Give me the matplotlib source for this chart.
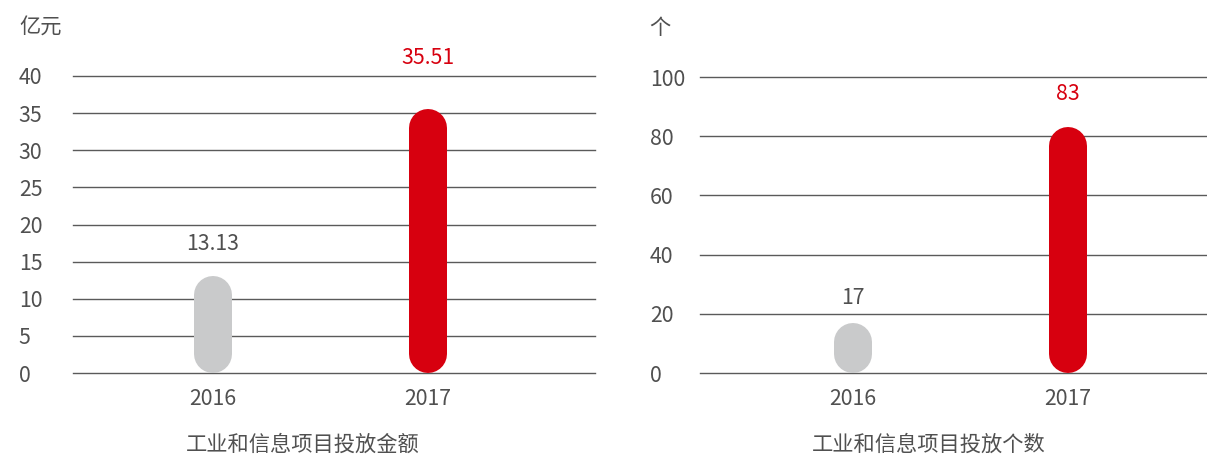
import matplotlib
matplotlib.use("Agg")
import matplotlib.pyplot as plt

plt.rcParams['font.family'] = ['Noto Sans CJK SC', 'DejaVu Sans']

# ---- data ----
years = ["2016", "2017"]
amount_values = [13.13, 35.51]
amount_labels = ["13.13", "35.51"]
count_values = [17, 83]
count_labels = ["17", "83"]
amount_ticks = [0, 5, 10, 15, 20, 25, 30, 35, 40]
count_ticks = [0, 20, 40, 60, 80, 100]
amount_unit = "亿元"
count_unit = "个"
amount_title = "工业和信息项目投放金额"
count_title = "工业和信息项目投放个数"

# ---- style ----
GREY_TXT = "#505050"
GRID = "#5a5a5a"
BAR_COLORS = ["#c9cacb", "#d7000f"]
LABEL_COLORS = [GREY_TXT, "#d7000f"]
FS = 15.3
DPI = 100
W, H = 12.07, 4.57
BAR_PX = 38

fig = plt.figure(figsize=(W, H), dpi=DPI)

def panel(rect, values, labels, ticks, xlim, unit, unit_x, title, title_x, label_off_px, tick_pad):
    ax = fig.add_axes(rect)
    ax.set_xlim(*xlim)
    ax.set_ylim(ticks[0], ticks[-1])
    for s in ax.spines.values():
        s.set_visible(False)
    ax.set_yticks(ticks)
    ax.set_yticklabels([str(t) for t in ticks], ha='left')
    ax.tick_params(axis='y', length=0, pad=tick_pad, labelsize=FS, labelcolor=GREY_TXT)
    ax.set_xticks(range(len(years)))
    ax.set_xticklabels(years)
    ax.tick_params(axis='x', length=0, pad=11, labelsize=FS, labelcolor=GREY_TXT)
    for t in ticks:
        ax.axhline(t, color=GRID, lw=1.0, zorder=1, clip_on=False)
    # data units per pixel
    ax_h_px = rect[3] * H * DPI
    unit_per_px = (ticks[-1] - ticks[0]) / ax_h_px
    r = BAR_PX / 2 * unit_per_px
    lw_pt = BAR_PX * 72 / DPI
    for i, v in enumerate(values):
        y0 = r
        y1 = max(v - r, r + 0.001)
        ax.plot([i, i], [y0, y1], color=BAR_COLORS[i], lw=lw_pt,
                solid_capstyle='round', zorder=3)
        ax.annotate(labels[i], (i, v), xytext=(0, label_off_px[i] * 72 / DPI),
                    textcoords='offset points', ha='center', va='center',
                    fontsize=FS, color=LABEL_COLORS[i])
    fig.text(unit_x, 1 - 28 / (H * DPI), unit, ha='left', va='center',
             fontsize=FS, color=GREY_TXT)
    fig.text(title_x, 1 - 445 / (H * DPI), title, ha='center', va='center',
             fontsize=FS, color=GREY_TXT)
    return ax

FW = W * DPI
FH = H * DPI
rect_l = [73 / FW, 84 / FH, 522 / FW, 297 / FH]
rect_r = [700 / FW, 84 / FH, 507 / FW, 296 / FH]

panel(rect_l, amount_values, amount_labels, amount_ticks, (-0.651, 1.777),
      amount_unit, 19 / FW, amount_title, 303 / FW, [32, 51], 39)
panel(rect_r, count_values, count_labels, count_ticks, (-0.712, 1.647),
      count_unit, 649 / FW, count_title, 929 / FW, [25, 33], 36)

fig.savefig("out.png", dpi=DPI)
